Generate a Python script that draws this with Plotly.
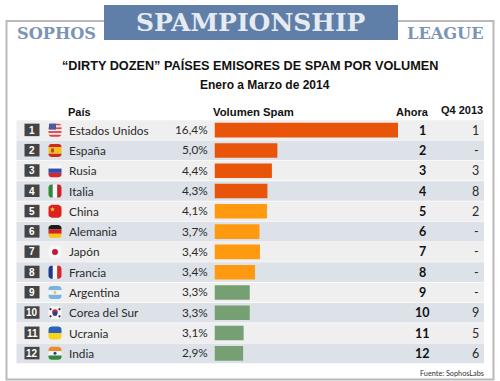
import math
import plotly.graph_objects as go

W, H = 500, 381

ranks = ["1", "2", "3", "4", "5", "6", "7", "8", "9", "10", "11", "12"]
countries = ["Estados Unidos", "España", "Rusia", "Italia", "China", "Alemania",
             "Japón", "Francia", "Argentina", "Corea del Sur", "Ucrania", "India"]
share_labels = ["16,4%", "5,0%", "4,4%", "4,3%", "4,1%", "3,7%",
                "3,4%", "3,4%", "3,3%", "3,3%", "3,1%", "2,9%"]
# Bar lengths as drawn in the picture (the original is not strictly proportional)
bar_lengths = [16.4, 5.62, 5.13, 4.73, 4.69, 4.02, 4.06, 3.62, 3.15, 3.15, 2.6, 2.56]
bar_colors = ["#e8540a"] * 4 + ["#ff9a10"] * 4 + ["#769f74"] * 4
now_rank = ranks
q4_rank = ["1", "-", "3", "8", "2", "-", "-", "-", "-", "9", "5", "6"]

TOP, BOT = 120.0, 363.5
ROW = (BOT - TOP) / 12
BAR_X0 = 214.5
PX_PER_UNIT = 183.5 / 16.4


def px(x):
    return x / W


def py(y):
    return 1 - y / H


def rect(x0, y0, x1, y1, fill, line=None, lw=0, layer="below"):
    return dict(type="rect", xref="paper", yref="paper", x0=px(x0), x1=px(x1),
                y0=py(y0), y1=py(y1), fillcolor=fill, layer=layer,
                line=dict(color=line or fill, width=lw))


def path_px(points, fill):
    d = "M " + " L ".join(f"{px(a):.5f},{py(b):.5f}" for a, b in points) + " Z"
    return dict(type="path", xref="paper", yref="paper", path=d, fillcolor=fill,
                line=dict(width=0), layer="above")


def inset(t, half, r):
    """Inset of a rounded box edge at distance t from the box side."""
    if t < r:
        return r - math.sqrt(max(r * r - (r - t) ** 2, 0))
    if t > 2 * half - r:
        return inset(2 * half - t, half, r)
    return 0


def stripes(cx, cy, colors, vertical=False, weights=None, w=13.0, h=13.0, r=3.0):
    out = []
    weights = weights or [1] * len(colors)
    total = sum(weights)
    length = w if vertical else h
    pos = 0.0
    for color, wt in zip(colors, weights):
        a, b = pos, pos + length * wt / total
        pos = b
        ts = [a + (b - a) * i / 8 for i in range(9)]
        if vertical:
            top = [(cx - w / 2 + t, cy - h / 2 + inset(t, w / 2, r)) for t in ts]
            bot = [(cx - w / 2 + t, cy + h / 2 - inset(t, w / 2, r)) for t in reversed(ts)]
            out.append(path_px(top + bot, color))
        else:
            lft = [(cx - w / 2 + inset(t, h / 2, r), cy - h / 2 + t) for t in ts]
            rgt = [(cx + w / 2 - inset(t, h / 2, r), cy - h / 2 + t) for t in reversed(ts)]
            out.append(path_px(lft + rgt, color))
    return out


def dot(cx, cy, rad, color):
    return dict(type="circle", xref="paper", yref="paper", x0=px(cx - rad), x1=px(cx + rad),
                y0=py(cy - rad), y1=py(cy + rad), fillcolor=color, line=dict(width=0), layer="above")


def flag(i, cy):
    cx = 55.0
    if i == 0:
        s = stripes(cx, cy, ["#d8474f", "#f3e6e6", "#d8474f", "#f3e6e6", "#d8474f", "#f3e6e6", "#d8474f"])
        s.append(rect(49, cy - 6.5, 56, cy - 0.5, "#4a5a9c", layer="above"))
        return s
    if i == 1:
        return stripes(cx, cy, ["#cf2a20", "#f2c01e", "#cf2a20"], weights=[1, 2, 1]) + [
            rect(51, cy - 2, 54, cy + 2, "#b5501c", layer="above")]
    if i == 2:
        return stripes(cx, cy, ["#f6f6f6", "#2f4fb0", "#d8262e"])
    if i == 3:
        return stripes(cx, cy, ["#2f8a3c", "#f6f6f6", "#c8242e"], vertical=True)
    if i == 4:
        star = []
        for k in range(10):
            rad = 2.6 if k % 2 == 0 else 1.1
            ang = -math.pi / 2 + k * math.pi / 5
            star.append((52.5 + rad * math.cos(ang), cy - 2 + rad * math.sin(ang)))
        return stripes(cx, cy, ["#e0201c"]) + [path_px(star, "#f6d92a")]
    if i == 5:
        return stripes(cx, cy, ["#1c1c1c", "#d3201f", "#f7c51e"])
    if i == 6:
        return stripes(cx, cy, ["#f7f7f7"]) + [dot(cx, cy, 3, "#c9163c")]
    if i == 7:
        return stripes(cx, cy, ["#1d3a8c", "#f6f6f6", "#d8262e"], vertical=True)
    if i == 8:
        return stripes(cx, cy, ["#78b4e2", "#f4f4f4", "#78b4e2"]) + [dot(cx, cy, 1.4, "#e8c050")]
    if i == 9:
        return (stripes(cx, cy, ["#f7f7f7"]) + [dot(cx, cy - 0.8, 2.8, "#d8263a"), dot(cx, cy + 0.9, 2.4, "#27408f")]
                + [dot(x, y, 1.1, "#333333") for x, y in
                   [(50.5, cy - 3.6), (59.5, cy - 3.6), (50.5, cy + 3.6), (59.5, cy + 3.6)]])
    if i == 10:
        return stripes(cx, cy, ["#2a62b8", "#f7d320"])
    return stripes(cx, cy, ["#ef8a33", "#f6f6f6", "#2e8a3a"]) + [dot(cx, cy, 1.5, "#2a3f8f")]


shapes = []
# outer frame
shapes.append(rect(6.5, 21, 493.5, 379.5, "#ffffff", "#b9b9b9", 2))
# banner
shapes.append(rect(104, 5, 398, 40, "#5f7ea8"))
# row bands, rank squares, flags
for i in range(12):
    y0 = TOP + i * ROW
    cy = y0 + ROW / 2
    shapes.append(rect(16.5, y0 + 0.3, 484, y0 + ROW - 0.3, "#efefef" if i % 2 == 0 else "#dde2e9"))
    shapes.append(rect(24.5, cy - 6.5, 39.5, cy + 6, "#444444", layer="above"))
    shapes.extend(flag(i, cy))

fig = go.Figure(go.Bar(
    x=bar_lengths, y=countries, orientation="h",
    marker=dict(color=bar_colors, line=dict(width=0)),
    width=0.72, hoverinfo="skip",
))

annotations = []


def label(x, y, text, size, color="#1e1e1e", family="Liberation Sans", bold=False, anchor="left"):
    annotations.append(dict(
        xref="paper", yref="paper", x=px(x), y=py(y), text=f"<b>{text}</b>" if bold else text,
        showarrow=False, xanchor=anchor, yanchor="middle", align=anchor,
        font=dict(family=family, size=size, color=color), borderpad=0, borderwidth=0,
    ))


SLAB = "DejaVu Serif"
label(250.5, 22.5, "SPAMPIONSHIP", 25, "#e6ebf2", SLAB, True, "center")
label(56.5, 33.5, "SOPHOS", 16.2, "#7b94b6", SLAB, True, "center")
label(445.5, 33.5, "LEAGUE", 16.2, "#7b94b6", SLAB, True, "center")

label(250, 65, "“DIRTY DOZEN” PAÍSES EMISORES DE SPAM POR VOLUMEN", 12.7, "#111111", bold=True, anchor="center")
label(265, 85, "Enero a Marzo de 2014", 12, "#111111", bold=True, anchor="center")
label(68, 111.5, "País", 11, "#111111", bold=True)
label(213, 111.5, "Volumen Spam", 11.3, "#111111", bold=True)
label(412.5, 111.5, "Ahora", 11, "#111111", bold=True, anchor="center")
label(462, 110, "Q4 2013", 11, "#111111", bold=True, anchor="center")
label(484, 373.5, "Fuente: SophosLabs", 7.3, "#333333", "Lato", anchor="right")

BODY = "Lato"
for i in range(12):
    cy = TOP + i * ROW + ROW / 2
    label(32, cy, ranks[i], 10, "#ffffff", "Liberation Sans", True, "center")
    label(68.5, cy, countries[i], 11.8, "#2a2a2a", BODY)
    label(207.5, cy - 0.5, share_labels[i], 11.8, "#2a2a2a", BODY, anchor="right")
    label(422, cy, now_rank[i], 12.5, "#111111", BODY, True, "center")
    label(478.5, cy, q4_rank[i], 12.5, "#2a2a2a", BODY, anchor="right")

fig.update_layout(
    width=W, height=H, margin=dict(l=0, r=0, t=0, b=0, pad=0),
    paper_bgcolor="#ffffff", plot_bgcolor="rgba(0,0,0,0)",
    showlegend=False, shapes=shapes, annotations=annotations,
    xaxis=dict(domain=[px(BAR_X0), 1], range=[0, (W - BAR_X0) / PX_PER_UNIT], visible=False, fixedrange=True),
    yaxis=dict(domain=[py(BOT), py(TOP)], type="category", categoryorder="array", categoryarray=countries,
               range=[11.5, -0.5], visible=False, fixedrange=True),
)
fig.write_html("out.html", config=dict(displayModeBar=False),
               post_script="document.body.style.margin='0';document.documentElement.style.overflow='hidden';")
